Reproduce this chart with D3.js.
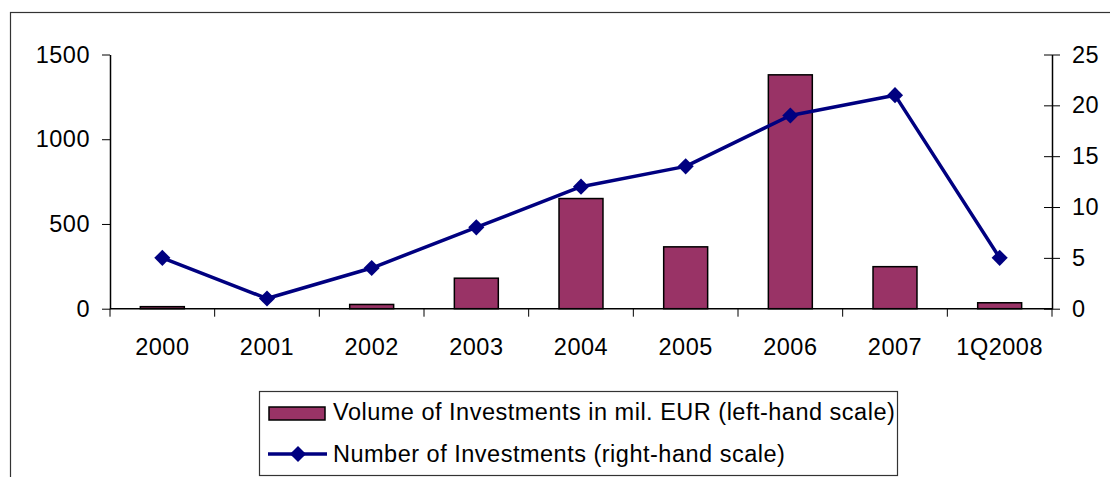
<!DOCTYPE html>
<html>
<head>
<meta charset="utf-8">
<script src="https://cdn.jsdelivr.net/npm/d3@7"></script>
<style>
  html, body { margin: 0; padding: 0; background: #fff; }
  svg { display: block; font-family: Arial, "Liberation Sans", sans-serif; }
  text { letter-spacing: 0.5px; }
</style>
</head>
<body>
<svg id="chart" width="1110" height="477"></svg>
<script>
// Investment activity by year
const categories = ["2000", "2001", "2002", "2003", "2004", "2005", "2006", "2007", "1Q2008"];
const volumeEUR = [12, 0, 25, 180, 650, 365, 1380, 248, 35];   // mil. EUR, left scale
const dealCount = [5, 1, 4, 8, 12, 14, 19, 21, 5];             // number, right scale
const leftTicks = [0, 500, 1000, 1500];
const rightTicks = [0, 5, 10, 15, 20, 25];
const legendLabels = [
  "Volume of Investments in mil. EUR (left-hand scale)",
  "Number of Investments (right-hand scale)"
];

const barColor = "#993366";
const lineColor = "#000080";
const fontSize = 23.5;

const svg = d3.select("#chart");
const plot = { left: 110, right: 1052, top: 54.5, bottom: 308.7 };

// outer frame
svg.append("rect")
  .attr("x", 10.5).attr("y", 12.5)
  .attr("width", 1120).attr("height", 500)
  .attr("fill", "none").attr("stroke", "#333").attr("stroke-width", 1.2);

const x = d3.scaleBand().domain(categories).range([plot.left, plot.right]).padding(0);
const yL = d3.scaleLinear().domain([0, 1500]).range([plot.bottom, plot.top]);
const yR = d3.scaleLinear().domain([0, 25]).range([plot.bottom, plot.top]);

// bars
const barW = x.bandwidth() * 0.42;
svg.append("g").selectAll("rect")
  .data(volumeEUR)
  .join("rect")
  .attr("x", (d, i) => x(categories[i]) + (x.bandwidth() - barW) / 2)
  .attr("y", d => yL(d))
  .attr("width", barW)
  .attr("height", d => plot.bottom - yL(d))
  .attr("fill", barColor)
  .attr("stroke", "#000")
  .attr("stroke-width", d => d > 0 ? 1.5 : 0);

// left axis
const gL = svg.append("g")
  .attr("transform", `translate(${plot.left},0)`)
  .call(d3.axisLeft(yL).tickValues(leftTicks).tickFormat(d3.format("d"))
    .tickSize(8).tickSizeOuter(0).tickPadding(12));

// right axis, ticks crossing the line
const gR = svg.append("g")
  .attr("transform", `translate(${plot.right},0)`)
  .call(d3.axisRight(yR).tickValues(rightTicks).tickFormat(d3.format("d"))
    .tickSize(8).tickSizeOuter(0).tickPadding(12));
gR.selectAll(".tick line").attr("x1", -8);

// category axis with ticks at band boundaries
const gX = svg.append("g").attr("transform", `translate(0,${plot.bottom})`);
gX.append("line")
  .attr("x1", plot.left).attr("x2", plot.right)
  .attr("stroke", "#000").attr("stroke-width", 1.5);
const boundaries = categories.map(c => x(c)).concat([x.range()[1]]);
gX.selectAll("line.tk").data(boundaries).join("line")
  .attr("class", "tk")
  .attr("x1", d => d).attr("x2", d => d)
  .attr("y1", 0).attr("y2", 8)
  .attr("stroke", "#000").attr("stroke-width", 1);
gX.selectAll("text").data(categories).join("text")
  .attr("x", d => x(d) + x.bandwidth() / 2)
  .attr("y", 46)
  .attr("text-anchor", "middle")
  .attr("font-size", fontSize)
  .text(d => d);

[gL, gR].forEach(g => {
  g.select(".domain").attr("stroke", "#000").attr("stroke-width", 1.5);
  g.selectAll(".tick line").attr("stroke", "#000");
  g.selectAll(".tick text").attr("font-size", fontSize).attr("fill", "#000")
    .attr("font-family", 'Arial, "Liberation Sans", sans-serif');
});

// count line with diamond markers
const cx = (i) => x(categories[i]) + x.bandwidth() / 2;
const line = d3.line().x((d, i) => cx(i)).y(d => yR(d));
svg.append("path")
  .datum(dealCount)
  .attr("d", line)
  .attr("fill", "none")
  .attr("stroke", lineColor)
  .attr("stroke-width", 3.5)
  .attr("stroke-linejoin", "round");

const diamond = d3.symbol().type(d3.symbolSquare).size(130);
svg.append("g").selectAll("path")
  .data(dealCount)
  .join("path")
  .attr("d", diamond)
  .attr("transform", (d, i) => `translate(${cx(i)},${yR(d)}) rotate(45)`)
  .attr("fill", lineColor);

// legend
const lg = svg.append("g");
lg.append("rect")
  .attr("x", 259.5).attr("y", 391.5)
  .attr("width", 638).attr("height", 84)
  .attr("fill", "#fff").attr("stroke", "#333").attr("stroke-width", 1.2);

lg.append("rect")
  .attr("x", 269).attr("y", 407)
  .attr("width", 56).attr("height", 13)
  .attr("fill", barColor).attr("stroke", "#000").attr("stroke-width", 1.5);
lg.append("text")
  .attr("x", 333).attr("y", 420)
  .attr("font-size", fontSize)
  .text(legendLabels[0]);

lg.append("line")
  .attr("x1", 268).attr("x2", 327)
  .attr("y1", 454).attr("y2", 454)
  .attr("stroke", lineColor).attr("stroke-width", 3.5);
lg.append("path")
  .attr("d", diamond)
  .attr("transform", "translate(298,454) rotate(45)")
  .attr("fill", lineColor);
lg.append("text")
  .attr("x", 333).attr("y", 462)
  .attr("font-size", fontSize)
  .text(legendLabels[1]);
</script>
</body>
</html>
